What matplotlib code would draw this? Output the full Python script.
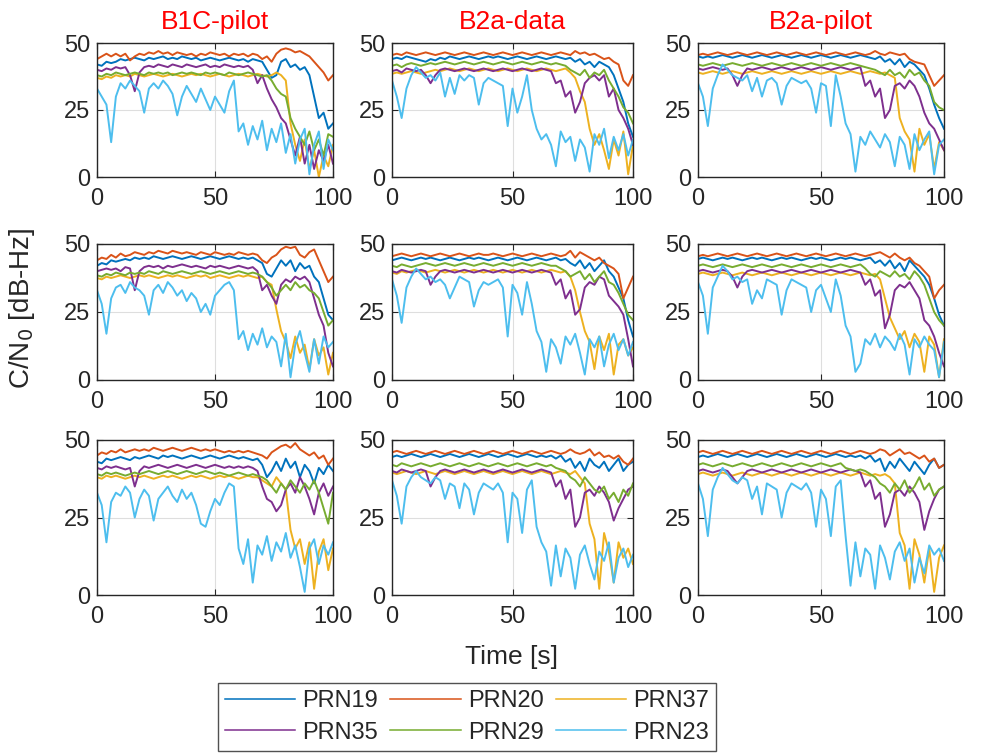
import matplotlib
matplotlib.use('Agg')
import matplotlib.pyplot as plt

plt.rcParams['font.family'] = ['Liberation Sans', 'DejaVu Sans']

time_s = list(range(0, 101, 2))
prn_names = ['PRN19', 'PRN20', 'PRN37', 'PRN35', 'PRN29', 'PRN23']
prn_colors = ['#0072BD', '#D95319', '#EDB120', '#7E2F8E', '#77AC30', '#4DBEEE']
signal_titles = ['B1C-pilot', 'B2a-data', 'B2a-pilot']
x_ticks = [0, 50, 100]
y_ticks = [0, 25, 50]

# ---- B1C-pilot ----
b1c_r1_prn19 = [42, 41.5, 43, 42.5, 43, 44, 43.5, 44, 44.5, 44,
                43.5, 44.5, 44, 44.5, 45, 44, 44.5, 44, 45, 44.5,
                44, 44.5, 43.5, 44, 44.5, 44, 43.5, 44, 44.5, 44,
                43.5, 44, 43, 44, 43.5, 43, 40, 37, 38, 43,
                44, 41, 42, 40, 41, 38, 30, 22, 24, 18, 20]
b1c_r1_prn20 = [44, 45, 46, 45, 46, 45, 46, 43.5, 45, 46,
                45.5, 46.5, 46, 47, 46, 46.5, 45.5, 46.5, 46, 45.5,
                46, 45, 46, 45.5, 46.5, 46, 45.5, 46, 45, 46,
                45.5, 46, 45, 46, 45.5, 44, 45, 43, 46, 47.5,
                48, 47.5, 46.5, 47, 46, 45, 43, 41, 39, 36, 38]
b1c_r1_prn37 = [37, 36.5, 37.5, 37, 38, 37.5, 38, 37.5, 38.5, 38,
                37.5, 38, 38.5, 38, 37.5, 38, 38.5, 38, 37.5, 38,
                38.5, 38, 38.5, 38, 37.5, 38, 38.5, 38, 37.5, 38,
                38.5, 38, 37.5, 38, 38.5, 38, 37.5, 38, 39, 38,
                36, 20, 12, 6, 14, 3, 10, 0, 8, 4, 12]
b1c_r1_prn35 = [40, 39.5, 40.5, 40, 41, 40.5, 41, 38, 32, 39,
                41, 41.5, 41, 42, 41.5, 41, 42, 41.5, 41, 42,
                41.5, 41, 41.5, 42, 41, 41.5, 41, 42, 41.5, 41,
                41.5, 41, 41.5, 40, 35, 38, 33, 29, 26, 22,
                20, 14, 8, 15, 5, 12, 3, 10, 6, 12, 5]
b1c_r1_prn29 = [38, 37.5, 38.5, 38, 39, 38.5, 38, 38.5, 39, 38.5,
                38, 39, 38.5, 39, 38.5, 39, 38, 38.5, 39, 38.5,
                39, 38.5, 38, 39, 38.5, 39, 38.5, 38, 39, 38.5,
                38, 38.5, 39, 38.5, 38, 37.5, 38, 36, 33, 31,
                30, 22, 18, 15, 12, 17, 10, 14, 8, 16, 15]
b1c_r1_prn23 = [33, 30, 27, 13, 30, 35, 33, 36, 34, 32,
                24, 33, 35, 33, 36, 34, 31, 23, 30, 34,
                31, 28, 33, 29, 25, 30, 27, 24, 32, 36,
                17, 20, 12, 19, 14, 21, 10, 18, 13, 20,
                9, 16, 5, 14, 18, 1, 12, 17, 3, 14, 10]

b1c_r2_prn19 = [42, 43, 42.5, 44, 43.5, 44, 44.5, 44, 45, 44.5,
                45, 44.5, 45.5, 45, 44.5, 45, 45.5, 45, 44.5, 45,
                45.5, 45, 44.5, 45, 45.5, 45, 44.5, 45, 45.5, 45,
                44.5, 45, 44.5, 45, 44, 43, 39, 38, 41, 44,
                42, 44, 40, 43, 41, 42, 38, 36, 30, 24, 22]
b1c_r2_prn20 = [44, 45, 44.5, 46, 45, 46.5, 45.5, 46, 47, 46.5,
                46, 47, 46.5, 47.5, 47, 46.5, 47.5, 47, 46.5, 47,
                46.5, 46, 47, 46.5, 46, 47, 46.5, 46, 46.5, 46,
                47, 46.5, 46, 46.5, 46, 44, 43, 45, 46, 48,
                49, 48.5, 49, 46, 45, 47, 48, 44, 40, 36, 38]
b1c_r2_prn37 = [37.5, 37, 38, 37.5, 38, 38.5, 38, 37.5, 38, 38.5,
                38, 38.5, 38, 37.5, 38, 38.5, 38, 38.5, 38, 37.5,
                38, 38.5, 38, 38.5, 37.5, 38, 38.5, 38, 37.5, 38,
                38.5, 38, 38.5, 38, 37.5, 38, 36, 35, 26, 18,
                14, 8, 16, 10, 13, 4, 15, 9, 12, 2, 10]
b1c_r2_prn35 = [40, 40.5, 41, 40.5, 41, 40, 41.5, 41, 33, 40,
                41.5, 42, 41.5, 42, 41, 42, 41.5, 42, 42.5, 42,
                41.5, 42, 41.5, 41, 42, 41.5, 42, 41.5, 41, 41.5,
                42, 41.5, 41, 41.5, 40, 33, 35, 31, 28, 35,
                37, 36, 38, 37, 38, 36, 30, 24, 20, 10, 5]
b1c_r2_prn29 = [38.5, 38, 39, 38.5, 39.5, 39, 38.5, 39.5, 39, 39.5,
                39, 40, 39.5, 39, 40, 39.5, 39, 39.5, 40, 39.5,
                39, 39.5, 40, 39.5, 39, 39.5, 40, 39.5, 39, 39.5,
                40, 39.5, 39, 39.5, 39, 38, 36, 34, 31, 33,
                35, 33, 36, 34, 35, 33, 32, 30, 25, 20, 22]
b1c_r2_prn23 = [33, 28, 17, 30, 34, 35, 32, 36, 34, 33,
                31, 24, 33, 35, 32, 36, 34, 31, 33, 29,
                32, 30, 25, 28, 24, 31, 33, 35, 36, 33,
                15, 18, 11, 17, 13, 19, 12, 16, 14, 5,
                17, 1, 13, 18, 10, 3, 15, 6, 16, 12, 14]

b1c_r3_prn19 = [43, 42.5, 44, 43.5, 44, 44.5, 44, 43.5, 44.5, 44,
                44.5, 45, 44.5, 44, 45, 44.5, 45, 44.5, 44, 44.5,
                45, 44.5, 44, 44.5, 45, 44.5, 44, 44.5, 45, 44.5,
                44, 44.5, 44, 43.5, 44, 42, 38, 40, 43, 40,
                44, 41, 43, 38, 42, 40, 36, 41, 39, 42, 40]
b1c_r3_prn20 = [45, 46, 45.5, 46.5, 46, 47, 46, 46.5, 47, 46.5,
                47, 46.5, 47.5, 47, 46.5, 47, 47.5, 47, 46.5, 47,
                47.5, 47, 46.5, 47, 46.5, 47, 46.5, 46, 46.5, 46,
                46.5, 46, 46.5, 46, 45.5, 45, 44, 46, 47, 48,
                48.5, 47.5, 49, 47, 46, 45, 46, 44, 45, 42, 44]
b1c_r3_prn37 = [38, 37.5, 38.5, 38, 38.5, 38, 37.5, 38, 38.5, 38,
                38.5, 38, 37.5, 38, 38.5, 38, 38.5, 38, 37.5, 38,
                38.5, 38, 38.5, 38, 37.5, 38, 38.5, 38, 38.5, 38,
                37.5, 38, 38.5, 38, 38, 37, 36, 35, 38, 36,
                34, 21, 15, 18, 10, 17, 2, 14, 18, 8, 15]
b1c_r3_prn35 = [41, 40.5, 41.5, 41, 41.5, 41, 40.5, 41, 35, 40,
                41.5, 41, 41.5, 42, 41.5, 41, 41.5, 42, 41.5, 41,
                41.5, 42, 41.5, 41, 41.5, 42, 41.5, 41, 41.5, 41,
                41.5, 41, 41.5, 41, 40, 35, 31, 30, 27, 29,
                34, 36, 33, 38, 35, 31, 26, 33, 36, 32, 35]
b1c_r3_prn29 = [39, 38.5, 39.5, 39, 39.5, 39, 38.5, 39, 39.5, 39,
                39.5, 40, 39.5, 39, 39.5, 40, 39.5, 39, 39.5, 40,
                39.5, 39, 39.5, 40, 39.5, 39, 39.5, 39, 38.5, 39,
                39.5, 39, 38.5, 39, 38.5, 38, 37, 35, 33, 36,
                34, 37, 35, 33, 36, 34, 37, 33, 28, 23, 33]
b1c_r3_prn23 = [33, 29, 17, 30, 33, 32, 35, 33, 25, 31,
                34, 32, 24, 31, 33, 35, 32, 30, 34, 31,
                33, 29, 23, 22, 27, 31, 29, 33, 36, 35,
                15, 10, 18, 4, 16, 13, 19, 11, 17, 14,
                20, 12, 16, 9, 1, 15, 18, 10, 16, 13, 17]

# ---- B2a-data ----
b2ad_r1_prn19 = [44, 44.5, 44, 45, 44.5, 44, 43.5, 43, 44, 43.5,
                 44.5, 44, 45, 44.5, 44, 44.5, 45, 44.5, 44, 44.5,
                 45, 44.5, 45, 44.5, 44, 44.5, 45, 44.5, 44, 44.5,
                 45, 44.5, 44, 44.5, 45, 44.5, 44, 44.5, 43, 44,
                 42, 43, 41, 43, 42, 41, 38, 33, 28, 20, 15]
b2ad_r1_prn20 = [45.5, 46, 45.5, 46.5, 46, 45.5, 46, 46.5, 46, 45.5,
                 46, 46.5, 46, 45.5, 46, 46.5, 46, 45.5, 46, 46.5,
                 46, 45.5, 46, 46.5, 46, 45.5, 46, 46.5, 46, 45.5,
                 46, 46.5, 46, 45.5, 46, 46.5, 46, 45.5, 47, 46,
                 46.5, 45.5, 46, 45, 44, 44.5, 43, 42, 36, 34, 38]
b2ad_r1_prn37 = [38.5, 39, 38.5, 39, 39.5, 39, 38.5, 39, 39.5, 40,
                 39.5, 40, 40.5, 40, 39.5, 40, 40.5, 40, 39.5, 40,
                 40.5, 40, 39.5, 40, 40.5, 40, 39.5, 40, 40.5, 40,
                 39.5, 40, 40.5, 40, 39.5, 40, 40.5, 39, 37, 32,
                 28, 18, 12, 16, 10, 3, 14, 8, 17, 1, 12]
b2ad_r1_prn35 = [39.5, 40, 39, 40.5, 40, 39.5, 40, 38, 35, 38,
                 40, 40.5, 40, 39.5, 40, 40.5, 40, 39.5, 40, 40.5,
                 40, 39.5, 40, 40.5, 40, 39.5, 40, 40.5, 40, 39.5,
                 40, 40.5, 40, 39.5, 35, 36, 30, 32, 24, 28,
                 35, 37, 38, 36, 38, 30, 33, 25, 22, 18, 12]
b2ad_r1_prn29 = [41.5, 42, 41, 42, 42.5, 42, 41.5, 42, 42.5, 42,
                 42.5, 43, 42.5, 42, 42.5, 43, 42.5, 42, 42.5, 43,
                 42.5, 42, 42.5, 43, 42.5, 42, 42.5, 43, 42.5, 42,
                 42.5, 43, 42.5, 42, 42.5, 42, 41.5, 40, 39, 38,
                 40, 37, 39, 38, 40, 36, 33, 30, 26, 24, 20]
b2ad_r1_prn23 = [36, 30, 22, 33, 38, 41, 39, 37, 38, 36,
                 39, 30, 37, 31, 38, 36, 38, 37, 27, 35,
                 37, 36, 35, 34, 19, 33, 24, 30, 38, 25,
                 18, 14, 16, 12, 4, 17, 13, 15, 6, 14,
                 11, 2, 16, 12, 18, 7, 15, 10, 16, 8, 14]

b2ad_r2_prn19 = [44, 44.5, 45, 44.5, 44, 44.5, 45, 44.5, 45, 44.5,
                 44, 44.5, 45, 44.5, 44, 44.5, 45, 44.5, 45, 44.5,
                 44, 44.5, 45, 44.5, 44, 44.5, 45, 44.5, 44, 44.5,
                 45, 44.5, 44, 44.5, 45, 44, 44.5, 43, 42, 44,
                 41, 43, 40, 42, 44, 40, 38, 34, 30, 22, 16]
b2ad_r2_prn20 = [45.5, 46, 46.5, 46, 45.5, 46, 46.5, 46, 45.5, 46,
                 46.5, 46, 45.5, 46, 46.5, 46, 45.5, 46, 46.5, 46,
                 46, 46.5, 46, 45.5, 46, 46.5, 46, 45.5, 46, 46.5,
                 46, 45.5, 46, 46.5, 46, 45.5, 46, 47.5, 45, 47,
                 46, 45, 44, 45, 43, 42, 41, 39, 30, 34, 38]
b2ad_r2_prn37 = [39.5, 39, 40, 39.5, 40, 40.5, 40, 39.5, 40, 40.5,
                 40, 39.5, 40, 40.5, 40, 39.5, 40, 40.5, 40, 39.5,
                 40, 40.5, 40, 39.5, 40, 40.5, 40, 39.5, 40, 40.5,
                 40, 39.5, 40, 40.5, 40, 39.5, 40, 38, 33, 25,
                 18, 14, 4, 16, 11, 17, 2, 13, 15, 9, 12]
b2ad_r2_prn35 = [40, 39.5, 40.5, 40, 39.5, 40, 40.5, 40, 35, 38,
                 40, 40.5, 40, 39.5, 40, 40.5, 40, 39.5, 40, 40.5,
                 40, 39.5, 40, 40.5, 40, 39.5, 40, 40.5, 40, 39.5,
                 40, 40.5, 40, 39.5, 35, 37, 30, 33, 24, 26,
                 34, 36, 35, 38, 37, 31, 29, 27, 24, 15, 5]
b2ad_r2_prn29 = [42, 41.5, 42.5, 42, 41.5, 42, 42.5, 43, 42.5, 42,
                 42.5, 43, 42.5, 42, 42.5, 43, 42.5, 42, 42.5, 43,
                 42.5, 42, 42.5, 43, 42.5, 42, 42.5, 43, 42.5, 42,
                 42.5, 43, 42.5, 42, 42, 41, 40, 38, 39, 40,
                 37, 39, 36, 38, 40, 36, 35, 32, 28, 24, 22]
b2ad_r2_prn23 = [37, 31, 21, 34, 38, 41, 39, 37, 38, 36,
                 37, 35, 30, 34, 38, 37, 36, 27, 33, 36,
                 35, 36, 37, 34, 16, 35, 32, 24, 36, 28,
                 18, 14, 3, 15, 12, 6, 16, 13, 17, 10,
                 2, 15, 12, 16, 5, 13, 17, 11, 15, 9, 14]

b2ad_r3_prn19 = [44.5, 45, 44.5, 45, 45.5, 45, 44.5, 45, 45.5, 45,
                 44.5, 45, 45.5, 45, 44.5, 45, 45.5, 45, 44.5, 45,
                 45.5, 45, 44.5, 45, 45.5, 45, 44.5, 45, 45.5, 45,
                 44.5, 45, 44.5, 45, 44, 45, 43, 44, 41, 43,
                 40, 44, 42, 41, 43, 40, 42, 44, 40, 42, 43]
b2ad_r3_prn20 = [46, 46.5, 46, 45.5, 46, 46.5, 46, 45.5, 46, 46.5,
                 46, 45.5, 46, 46.5, 46, 45.5, 46, 46.5, 46, 45.5,
                 46, 46.5, 46, 45.5, 46, 46.5, 46, 45.5, 46, 46.5,
                 46, 45.5, 46, 46.5, 46, 45.5, 46, 47, 46, 45.5,
                 46, 47, 45, 46, 44.5, 45, 44, 45, 43, 42, 44]
b2ad_r3_prn37 = [39.5, 39, 39.5, 40, 39.5, 39, 39.5, 40, 39.5, 39,
                 39.5, 40, 39.5, 39, 39.5, 40, 39.5, 39, 39.5, 40,
                 39.5, 39, 39.5, 40, 39.5, 39, 39.5, 40, 39.5, 39,
                 39.5, 40, 39.5, 39, 39.5, 40, 39.5, 39, 40, 38,
                 36, 23, 18, 2, 20, 14, 4, 17, 12, 15, 10]
b2ad_r3_prn35 = [40, 39.5, 40.5, 40, 39.5, 40, 40.5, 40, 35, 38,
                 40, 40.5, 40, 39.5, 40, 40.5, 40, 39.5, 40, 40.5,
                 40, 39.5, 40, 40.5, 40, 39.5, 40, 40.5, 40, 39.5,
                 40, 40.5, 40, 39.5, 35, 37, 31, 34, 22, 25,
                 33, 34, 32, 35, 33, 30, 24, 28, 31, 34, 35]
b2ad_r3_prn29 = [42, 41.5, 42.5, 42, 41.5, 42, 42.5, 42, 41.5, 42,
                 42.5, 42, 41.5, 42, 42.5, 42, 41.5, 42, 42.5, 42,
                 41.5, 42, 42.5, 42, 41.5, 42, 42.5, 42, 41.5, 42,
                 42.5, 42, 41.5, 42, 41, 40.5, 40, 38, 37, 35,
                 38, 36, 34, 33, 35, 31, 33, 30, 34, 32, 36]
b2ad_r3_prn23 = [37, 32, 23, 35, 38, 40, 38, 37, 36, 38,
                 37, 31, 36, 35, 28, 36, 34, 26, 33, 36,
                 35, 34, 36, 33, 17, 33, 31, 20, 34, 37,
                 22, 17, 14, 3, 16, 6, 15, 12, 2, 13,
                 16, 10, 5, 14, 11, 17, 4, 12, 15, 9, 13]

# ---- B2a-pilot ----
b2ap_r1_prn19 = [45, 44.5, 45, 44.5, 45, 45.5, 45, 44.5, 45, 45.5,
                 45, 44.5, 45, 45.5, 45, 44.5, 45, 45.5, 45, 44.5,
                 45, 45.5, 45, 44.5, 45, 45.5, 45, 44.5, 45, 45.5,
                 45, 44.5, 45, 45.5, 45, 44.5, 44, 45, 43, 44,
                 42, 44, 41, 43, 42, 40, 38, 33, 27, 22, 18]
b2ap_r1_prn20 = [45.5, 46, 45.5, 46, 46.5, 46, 45.5, 46, 46.5, 46,
                 45.5, 46, 46.5, 46, 45.5, 46, 46.5, 46, 45.5, 46,
                 46.5, 46, 45.5, 46, 46.5, 46, 45.5, 46, 46.5, 46,
                 45.5, 46, 46.5, 46, 45.5, 46, 47, 46, 45.5, 46.5,
                 46, 45.5, 46, 44, 43, 42.5, 42, 38, 34, 36, 38]
b2ap_r1_prn37 = [39, 38.5, 39, 39.5, 39, 38.5, 39, 39.5, 39, 38.5,
                 39, 39.5, 39, 38.5, 39, 39.5, 39, 38.5, 39, 39.5,
                 39, 38.5, 39, 39.5, 39, 38.5, 39, 39.5, 39, 38.5,
                 39, 39.5, 39, 38.5, 39, 39.5, 39, 38.5, 39, 38,
                 37, 22, 17, 14, 2, 18, 12, 16, 3, 13, 10]
b2ap_r1_prn35 = [40.5, 40, 40.5, 41, 40.5, 40, 40.5, 38, 34, 38,
                 40.5, 40, 40.5, 41, 40.5, 40, 40.5, 41, 40.5, 40,
                 40.5, 41, 40.5, 40, 40.5, 41, 40.5, 40, 40.5, 41,
                 40.5, 40, 40.5, 41, 34, 36, 30, 33, 22, 25,
                 34, 35, 33, 36, 34, 30, 24, 20, 18, 14, 10]
b2ap_r1_prn29 = [42, 41.5, 42, 42.5, 42, 41.5, 42, 42.5, 42, 41.5,
                 42, 42.5, 42, 41.5, 42, 42.5, 42, 41.5, 42, 42.5,
                 42, 41.5, 42, 42.5, 42, 41.5, 42, 42.5, 42, 41.5,
                 42, 42.5, 42, 41.5, 41, 40.5, 40, 39, 38, 40,
                 38, 39, 37, 40, 38, 39, 36, 34, 28, 26, 25]
b2ap_r1_prn23 = [35, 30, 19, 33, 38, 42, 40, 38, 37, 36,
                 38, 32, 37, 30, 36, 37, 35, 27, 34, 37,
                 36, 35, 36, 33, 24, 35, 34, 19, 38, 30,
                 20, 16, 2, 15, 12, 17, 14, 11, 16, 13,
                 4, 15, 12, 3, 16, 10, 14, 17, 1, 12, 14]

b2ap_r2_prn19 = [44.5, 45, 44.5, 44, 44.5, 45, 44.5, 45, 44.5, 44,
                 44.5, 45, 44.5, 45, 44.5, 44, 44.5, 45, 44.5, 45,
                 44.5, 44, 44.5, 45, 44.5, 45, 44.5, 44, 44.5, 45,
                 44.5, 45, 44.5, 44, 44.5, 45, 43, 44, 42, 44,
                 41, 43, 40, 44, 42, 40, 38, 35, 30, 24, 20]
b2ap_r2_prn20 = [45.5, 46, 45.5, 46, 46.5, 46, 45.5, 46, 46.5, 46,
                 45.5, 46, 46.5, 46, 45.5, 46, 46.5, 46, 45.5, 46,
                 46.5, 46, 45.5, 46, 46.5, 46, 45.5, 46, 46.5, 46,
                 45.5, 46, 46.5, 46, 45.5, 46, 46.5, 47, 46, 45,
                 46.5, 45, 44, 45, 43, 42, 40, 38, 30, 33, 35]
b2ap_r2_prn37 = [39, 39.5, 39, 38.5, 39, 39.5, 39, 38.5, 39, 39.5,
                 39, 38.5, 39, 39.5, 39, 38.5, 39, 39.5, 39, 38.5,
                 39, 39.5, 39, 38.5, 39, 39.5, 39, 38.5, 39, 39.5,
                 39, 38.5, 39, 39.5, 39, 38.5, 39, 37, 30, 23,
                 19, 15, 18, 12, 17, 14, 3, 16, 13, 1, 15]
b2ap_r2_prn35 = [40, 40.5, 40, 39.5, 40, 40.5, 40, 38, 34, 38,
                 40, 40.5, 40, 39.5, 40, 40.5, 40, 39.5, 40, 40.5,
                 40, 39.5, 40, 40.5, 40, 39.5, 40, 40.5, 40, 39.5,
                 40, 40.5, 40, 39.5, 35, 37, 31, 33, 19, 24,
                 33, 35, 34, 36, 33, 30, 22, 20, 16, 10, 5]
b2ap_r2_prn29 = [42, 42.5, 42, 41.5, 42, 42.5, 42, 41.5, 42, 42.5,
                 42, 41.5, 42, 42.5, 42, 41.5, 42, 42.5, 42, 41.5,
                 42, 42.5, 42, 41.5, 42, 42.5, 42, 41.5, 42, 42.5,
                 42, 41.5, 42, 42.5, 41, 39, 38, 40, 39, 38,
                 40, 38, 39, 37, 40, 38, 35, 30, 25, 22, 20]
b2ap_r2_prn23 = [36, 31, 17, 34, 38, 42, 40, 37, 38, 36,
                 37, 28, 33, 30, 37, 36, 35, 24, 33, 37,
                 36, 35, 34, 25, 33, 35, 30, 25, 37, 31,
                 20, 16, 3, 6, 15, 13, 17, 12, 16, 14,
                 11, 17, 13, 2, 15, 12, 16, 13, 11, 1, 14]

b2ap_r3_prn19 = [44.5, 45, 44.5, 45, 45.5, 45, 44.5, 45, 45.5, 45,
                 44.5, 45, 45.5, 45, 44.5, 45, 45.5, 45, 44.5, 45,
                 45.5, 45, 44.5, 45, 45.5, 45, 44.5, 45, 45.5, 45,
                 44.5, 45, 44.5, 45, 44, 45, 43, 44, 40, 43,
                 41, 44, 42, 40, 43, 41, 39, 42, 44, 41, 42]
b2ap_r3_prn20 = [46, 46.5, 46, 45.5, 46, 46.5, 46, 45.5, 46, 46.5,
                 46, 45.5, 46, 46.5, 46, 45.5, 46, 46.5, 46, 45.5,
                 46, 46.5, 46, 45.5, 46, 46.5, 46, 45.5, 46, 46.5,
                 46, 45.5, 46, 46.5, 46, 45.5, 46, 47, 46.5, 45,
                 46, 47, 45.5, 46, 45, 44, 45, 43, 44, 41, 42]
b2ap_r3_prn37 = [39, 39.5, 39, 38.5, 39, 39.5, 39, 38.5, 39, 39.5,
                 39, 38.5, 39, 39.5, 39, 38.5, 39, 39.5, 39, 38.5,
                 39, 39.5, 39, 38.5, 39, 39.5, 39, 38.5, 39, 39.5,
                 39, 38.5, 39, 39.5, 39, 38.5, 39, 38.5, 39, 38,
                 36, 20, 16, 2, 18, 13, 4, 15, 1, 12, 16]
b2ap_r3_prn35 = [40, 40.5, 40, 39.5, 40, 40.5, 40, 38, 36, 38,
                 40, 40.5, 40, 39.5, 40, 40.5, 40, 39.5, 40, 40.5,
                 40, 39.5, 40, 40.5, 40, 39.5, 40, 40.5, 40, 39.5,
                 40, 40.5, 40, 39.5, 35, 37, 31, 33, 22, 26,
                 33, 34, 32, 35, 33, 30, 21, 27, 31, 34, 35]
b2ap_r3_prn29 = [42, 42.5, 42, 41.5, 42, 42.5, 42, 41.5, 42, 42.5,
                 42, 41.5, 42, 42.5, 42, 41.5, 42, 42.5, 42, 41.5,
                 42, 42.5, 42, 41.5, 42, 42.5, 42, 41.5, 42, 42.5,
                 41, 40.5, 40, 40.5, 40, 39, 38, 36, 35, 33,
                 36, 34, 37, 33, 35, 38, 34, 36, 32, 34, 35]
b2ap_r3_prn23 = [36, 31, 19, 34, 38, 41, 39, 37, 36, 38,
                 37, 31, 35, 26, 36, 35, 34, 25, 33, 36,
                 35, 34, 36, 33, 22, 34, 31, 19, 35, 37,
                 19, 3, 17, 6, 15, 13, 2, 16, 12, 5,
                 14, 17, 11, 15, 4, 12, 7, 16, 13, 15, 11]

# panel table: rows x columns, each with series in legend order
panels = [
    [[b1c_r1_prn19, b1c_r1_prn20, b1c_r1_prn37, b1c_r1_prn35, b1c_r1_prn29, b1c_r1_prn23],
     [b2ad_r1_prn19, b2ad_r1_prn20, b2ad_r1_prn37, b2ad_r1_prn35, b2ad_r1_prn29, b2ad_r1_prn23],
     [b2ap_r1_prn19, b2ap_r1_prn20, b2ap_r1_prn37, b2ap_r1_prn35, b2ap_r1_prn29, b2ap_r1_prn23]],
    [[b1c_r2_prn19, b1c_r2_prn20, b1c_r2_prn37, b1c_r2_prn35, b1c_r2_prn29, b1c_r2_prn23],
     [b2ad_r2_prn19, b2ad_r2_prn20, b2ad_r2_prn37, b2ad_r2_prn35, b2ad_r2_prn29, b2ad_r2_prn23],
     [b2ap_r2_prn19, b2ap_r2_prn20, b2ap_r2_prn37, b2ap_r2_prn35, b2ap_r2_prn29, b2ap_r2_prn23]],
    [[b1c_r3_prn19, b1c_r3_prn20, b1c_r3_prn37, b1c_r3_prn35, b1c_r3_prn29, b1c_r3_prn23],
     [b2ad_r3_prn19, b2ad_r3_prn20, b2ad_r3_prn37, b2ad_r3_prn35, b2ad_r3_prn29, b2ad_r3_prn23],
     [b2ap_r3_prn19, b2ap_r3_prn20, b2ap_r3_prn37, b2ap_r3_prn35, b2ap_r3_prn29, b2ap_r3_prn23]],
]

W, H = 982, 753
col_px = [(97, 333), (392, 633), (698, 944)]   # left, right in pixels
row_px = [(43, 177), (244, 380), (440, 595)]   # top, bottom in pixels

fig = plt.figure(figsize=(W / 100, H / 100), dpi=100)

handles = []
for r, (top, bot) in enumerate(row_px):
    for c, (left, right) in enumerate(col_px):
        ax = fig.add_axes([left / W, 1 - bot / H, (right - left) / W, (bot - top) / H])
        for k, (series, color) in enumerate(zip(panels[r][c], prn_colors)):
            if len(series) != len(time_s):
                print('bad length', r, c, prn_names[k], len(series))
            line, = ax.plot(time_s, series, color=color, lw=1.4)
            if r == 0 and c == 0:
                handles.append(line)
        ax.set_xlim(0, 100)
        ax.set_ylim(0, 50)
        ax.set_xticks(x_ticks)
        ax.set_yticks(y_ticks)
        ax.grid(True, color='#dedede', lw=0.8)
        ax.set_axisbelow(True)
        ax.tick_params(direction='in', top=True, right=True, length=4,
                       labelsize=17, colors='#262626', pad=8)
        ax.tick_params(axis='y', pad=5)
        for s in ax.spines.values():
            s.set_color('#262626')
            s.set_linewidth(1.0)
        if r == 0:
            fig.text((left + right) / 2 / W, 1 - 22 / H, signal_titles[c],
                     color='#ff0000', fontsize=19, ha='center', va='center')

fig.text(22 / W, 1 - 308 / H, 'C/N$_0$ [dB-Hz]', rotation=90, fontsize=20,
         ha='center', va='center', color='#262626')
fig.text(512 / W, 1 - 657 / H, 'Time [s]', fontsize=19, ha='center', va='center',
         color='#262626')

order = [0, 3, 1, 4, 2, 5]
leg = fig.legend([handles[i] for i in order], [prn_names[i] for i in order],
                 ncol=3, loc='center', bbox_to_anchor=(467 / W, 1 - 717 / H),
                 fontsize=17, frameon=True, fancybox=False, edgecolor='#262626',
                 handlelength=3.0, handletextpad=0.3, columnspacing=0.5,
                 borderpad=0.3, labelspacing=0.4)
leg.get_frame().set_linewidth(1.0)
for ln in leg.get_lines():
    ln.set_linewidth(1.1)
for t in leg.get_texts():
    t.set_color('#262626')

fig.savefig('out.png', dpi=100)
